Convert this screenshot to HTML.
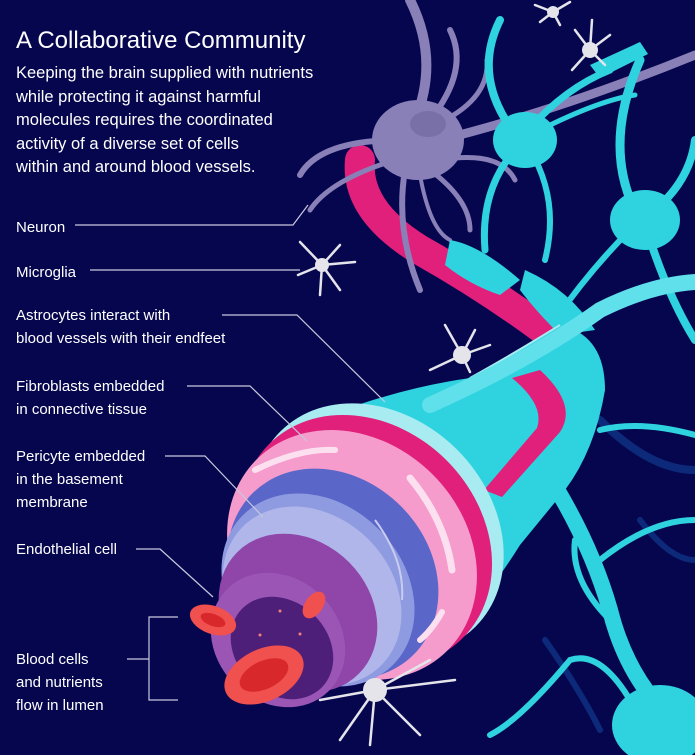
<!DOCTYPE html>
<html><head><meta charset="utf-8"><style>
html,body{margin:0;padding:0;background:#06064f;}
#c{position:relative;width:695px;height:755px;overflow:hidden;background:#06064f;font-family:"Liberation Sans",sans-serif;color:#fff;}
svg{position:absolute;left:0;top:0}
.t{position:absolute;white-space:nowrap}
</style></head><body><div id="c">
<svg width="695" height="755" viewBox="0 0 695 755">
<g fill="none" stroke-linecap="round">
<path d="M600 420 Q650 470 695 470" stroke="#0d2a7a" stroke-width="8"/>
<path d="M640 520 Q670 560 695 560" stroke="#0d2a7a" stroke-width="6"/>
<path d="M545 640 Q580 690 600 730" stroke="#0d2a7a" stroke-width="6"/>
<path d="M360 160 Q355 210 420 250 Q500 295 570 350" stroke="#e0207a" stroke-width="30"/>
<g stroke="#8a80b8">
<path d="M415 120 Q440 60 410 0" stroke-width="10"/>
<path d="M430 120 Q470 70 450 30" stroke-width="6"/>
<path d="M435 125 Q490 100 487 60" stroke-width="5"/>
<path d="M440 140 Q560 110 695 55" stroke-width="9"/>
<path d="M400 140 Q320 140 300 175" stroke-width="6"/>
<path d="M395 160 Q330 180 310 210" stroke-width="5"/>
<path d="M405 170 Q395 230 420 290" stroke-width="6"/>
<path d="M430 170 Q470 200 470 230" stroke-width="5"/>
<path d="M440 160 Q500 150 515 180" stroke-width="5"/>
<path d="M420 175 Q430 230 450 240" stroke-width="4"/>
</g>
<g stroke="#2fd3df">
<path d="M520 140 Q470 80 500 20" stroke-width="8"/>
<path d="M520 140 Q560 90 610 70" stroke-width="7"/>
<path d="M515 150 Q480 190 485 250" stroke-width="7"/>
<path d="M530 150 Q560 200 545 260" stroke-width="6"/>
<path d="M540 130 Q600 100 635 95" stroke-width="5"/>
<path d="M640 220 Q600 150 640 60" stroke-width="9"/>
<path d="M655 210 Q690 180 695 140" stroke-width="8"/>
<path d="M630 230 Q590 270 555 320" stroke-width="6"/>
<path d="M650 240 Q670 300 695 340" stroke-width="8"/>
<path d="M545 470 Q590 540 610 610 Q630 690 690 735" stroke-width="16"/>
<path d="M610 620 Q570 580 575 540" stroke-width="6"/>
<path d="M630 700 Q600 650 570 660 Q520 720 490 735" stroke-width="6"/>
<path d="M600 560 Q650 520 695 520" stroke-width="6"/>
<path d="M600 430 Q640 420 695 435" stroke-width="6"/>
</g>
</g>
<ellipse cx="418" cy="140" rx="46" ry="40" fill="#8a80b8"/>
<ellipse cx="428" cy="124" rx="18" ry="13" fill="#7a70a8"/>
<ellipse cx="525" cy="140" rx="32" ry="28" fill="#2fd3df"/>
<ellipse cx="645" cy="220" rx="35" ry="30" fill="#2fd3df"/>
<ellipse cx="660" cy="725" rx="48" ry="40" fill="#2fd3df"/>
<path d="M590 65 L640 42 L648 54 L600 78Z" fill="#2fd3df"/>
<path d="M450 240 Q480 245 520 280 L500 295 Q470 285 445 265Z" fill="#2fd3df"/>
<path d="M525 270 Q570 290 595 330 L560 335 Q535 310 520 290Z" fill="#2fd3df"/>
<path d="M330 415 Q400 388 470 378 Q520 350 560 325 Q605 335 605 390 Q595 450 565 490 L520 545 Q495 585 470 612 L390 560Z" fill="#2fd3df"/>
<path d="M512 378 L540 370 Q578 405 560 432 L502 497 L484 490 L537 428 Q545 405 512 378Z" fill="#e0207a"/>
<path d="M470 378 Q520 350 560 325" stroke="#a8ecf2" stroke-width="2" fill="none"/>
<ellipse cx="378" cy="529" rx="138" ry="112" transform="rotate(45 378 529)" fill="#a8ecf2"/>
<ellipse cx="366" cy="541" rx="137" ry="114" transform="rotate(45 366 541)" fill="#e0207a"/>
<ellipse cx="352" cy="555" rx="135" ry="114" transform="rotate(45 352 555)" fill="#f59ccc"/>
<ellipse cx="333" cy="574" rx="114" ry="96" transform="rotate(45 333 574)" fill="#5a66c8"/>
<ellipse cx="318" cy="590" rx="106" ry="86" transform="rotate(45 318 590)" fill="#8e9be0"/>
<ellipse cx="312" cy="596" rx="98" ry="80" transform="rotate(45 312 596)" fill="#b0b6ea"/>
<ellipse cx="298" cy="613" rx="86" ry="72" transform="rotate(45 298 613)" fill="#8f46a8"/>
<ellipse cx="278" cy="640" rx="72" ry="62" transform="rotate(45 278 640)" fill="#9a55b5"/>
<ellipse cx="282" cy="648" rx="56" ry="46" transform="rotate(45 282 648)" fill="#4e1f78"/>
<path d="M255 470 Q300 448 335 450" stroke="#fde0ef" stroke-width="6" fill="none" stroke-linecap="round"/>
<path d="M410 478 Q445 520 452 570" stroke="#fde0ef" stroke-width="7" fill="none" stroke-linecap="round"/>
<path d="M442 612 Q432 630 420 640" stroke="#fde0ef" stroke-width="6" fill="none" stroke-linecap="round"/>
<path d="M375 520 Q405 560 402 600" stroke="#c8ccf0" stroke-width="2" fill="none"/>
<path d="M430 405 Q530 360 600 310 Q650 285 695 282" stroke="#5fe0ea" stroke-width="16" fill="none" stroke-linecap="round"/>
<ellipse cx="213" cy="620" rx="24" ry="14" transform="rotate(20 213 620)" fill="#f0504e"/>
<ellipse cx="213" cy="620" rx="13" ry="6" transform="rotate(20 213 620)" fill="#d8282c"/>
<ellipse cx="314" cy="605" rx="9" ry="15" transform="rotate(35 314 605)" fill="#f0504e"/>
<ellipse cx="264" cy="675" rx="42" ry="26" transform="rotate(-25 264 675)" fill="#f0504e"/>
<ellipse cx="264" cy="675" rx="26" ry="14" transform="rotate(-25 264 675)" fill="#d8282c"/>
<g fill="#f08080"><circle cx="280" cy="611" r="1.5"/><circle cx="260" cy="635" r="1.5"/><circle cx="300" cy="634" r="1.5"/></g>
<g stroke="#e4e4ea" stroke-width="2.5" fill="none" stroke-linecap="round">
<path d="M322 265 L300 242 M322 265 L340 245 M322 265 L355 262 M322 265 L340 290 M322 265 L320 295 M322 265 L298 275"/>
<path d="M462 355 L445 325 M462 355 L475 330 M462 355 L490 345 M462 355 L430 370 M462 355 L470 372"/>
<path d="M590 50 L575 30 M590 50 L610 35 M590 50 L605 65 M590 50 L572 70 M590 50 L592 20"/>
<path d="M553 12 L535 5 M553 12 L570 2 M553 12 L560 25 M553 12 L540 22"/>
<path d="M375 690 L320 700 M375 690 L340 740 M375 690 L370 745 M375 690 L420 735 M375 690 L455 680 M375 690 L430 660"/>
</g>
<g fill="#e4e4ea"><circle cx="322" cy="265" r="7"/><circle cx="462" cy="355" r="9"/><circle cx="590" cy="50" r="8"/><circle cx="553" cy="12" r="6"/><circle cx="375" cy="690" r="12"/></g>
<g stroke="#c8c8dc" stroke-width="1.2" fill="none">
<path d="M75 225 H293 L308 205"/>
<path d="M90 270 H300"/>
<path d="M222 315 H297 L385 402"/>
<path d="M187 386 H250 L307 441"/>
<path d="M165 456 H205 L263 517"/>
<path d="M136 549 H160 L213 597"/>
<path d="M178 617 H149 V700 H178 M127 659 H149"/>
</g>
</svg>
<div class="t" style="left:16px;top:27px;font-size:24px">A Collaborative Community</div>
<div class="t" style="left:16px;top:62px;font-size:16.5px;line-height:23.6px">Keeping the brain supplied with nutrients<br>while protecting it against harmful<br>molecules requires the coordinated<br>activity of a diverse set of cells<br>within and around blood vessels.</div>
<div class="t" style="left:16px;top:216px;font-size:15px;line-height:23px">Neuron</div>
<div class="t" style="left:16px;top:261px;font-size:15px;line-height:23px">Microglia</div>
<div class="t" style="left:16px;top:304px;font-size:15px;line-height:23px">Astrocytes interact with<br>blood vessels with their endfeet</div>
<div class="t" style="left:16px;top:375px;font-size:15px;line-height:23px">Fibroblasts embedded<br>in connective tissue</div>
<div class="t" style="left:16px;top:445px;font-size:15px;line-height:23px">Pericyte embedded<br>in the basement<br>membrane</div>
<div class="t" style="left:16px;top:538px;font-size:15px;line-height:23px">Endothelial cell</div>
<div class="t" style="left:16px;top:648px;font-size:15px;line-height:23px">Blood cells<br>and nutrients<br>flow in lumen</div>
</div></body></html>
